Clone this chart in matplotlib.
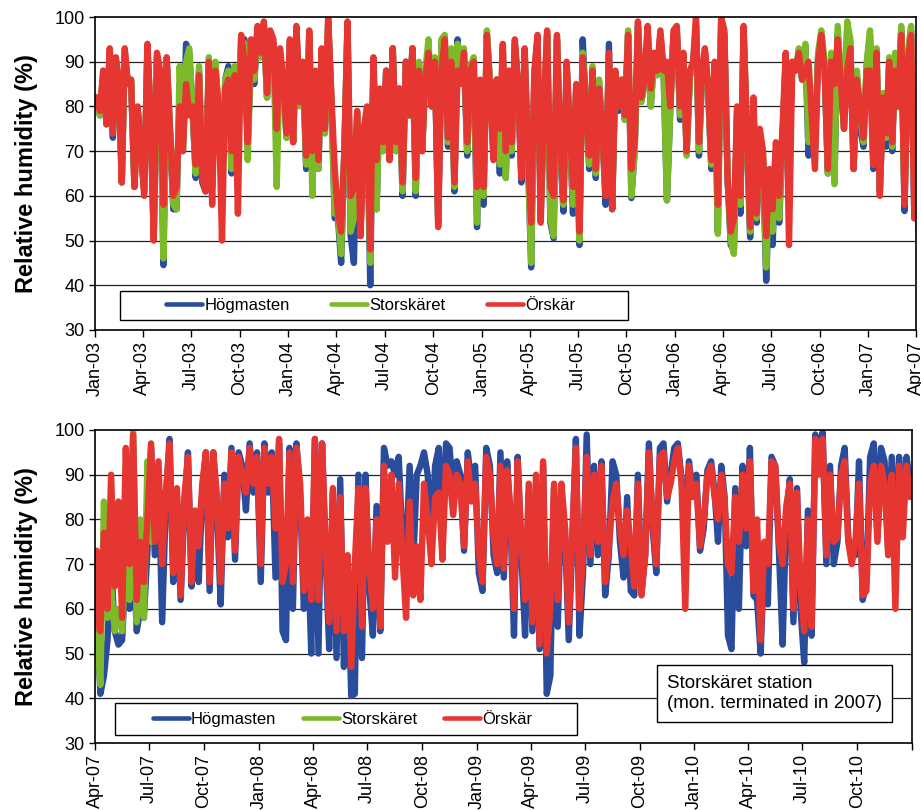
import numpy as np
import pandas as pd
import matplotlib
matplotlib.use("Agg")
import matplotlib.pyplot as plt
from matplotlib.patches import Rectangle

plt.rcParams['font.family'] = ['Liberation Sans', 'DejaVu Sans']

# daily RH (%), 5 readings per month, Jan..Dec
orskar_2003 = [82, 79, 88, 76, 93, 74, 91, 86, 63, 93, 85, 86, 62, 80, 70,
               60, 94, 78, 50, 92, 88, 58, 91, 75, 60, 62, 80, 70, 85, 78,
               80, 67, 87, 64, 61, 90, 58, 88, 80, 50, 84, 86, 70, 87, 56,
               96, 90, 72, 95, 88, 98, 92, 99, 83, 97, 95, 75, 93, 86, 74]
orskar_2004 = [95, 72, 98, 81, 90, 69, 97, 70, 88, 68, 93, 75, 100, 82, 66,
               56, 52, 70, 99, 60, 62, 79, 51, 75, 80, 48, 91, 68, 84, 72,
               88, 68, 93, 72, 84, 63, 90, 78, 93, 64, 88, 70, 86, 92, 80,
               90, 53, 88, 95, 73, 90, 63, 88, 85, 92, 72, 88, 90, 62, 86]
orskar_2005 = [62, 96, 84, 68, 86, 75, 94, 70, 88, 72, 95, 85, 64, 93, 70,
               54, 88, 96, 54, 80, 97, 62, 60, 96, 72, 59, 90, 75, 62, 85,
               52, 91, 80, 69, 88, 66, 84, 75, 60, 92, 57, 88, 80, 86, 78,
               96, 66, 72, 99, 82, 86, 98, 84, 92, 88, 97, 88, 90, 80, 97]
orskar_2006 = [98, 80, 92, 70, 88, 90, 100, 72, 88, 93, 85, 68, 90, 58, 100,
               97, 64, 52, 55, 80, 60, 98, 75, 53, 82, 56, 75, 70, 51, 66,
               57, 72, 60, 75, 92, 49, 90, 88, 92, 86, 88, 90, 78, 66, 90,
               96, 88, 66, 90, 85, 95, 85, 75, 88, 93, 66, 86, 80, 73, 88]
orskar_2007 = [88, 67, 92, 60, 82, 74, 90, 72, 88, 80, 96, 58, 90, 96, 55,
               73, 55, 77, 60, 90, 65, 84, 58, 96, 70, 99, 62, 75, 66, 80,
               97, 75, 93, 70, 86, 97, 68, 87, 63, 85, 94, 66, 82, 74, 88,
               95, 66, 95, 85, 66, 88, 78, 95, 73, 94, 90, 86, 96, 88, 94]
orskar_2008 = [70, 96, 88, 94, 78, 98, 66, 70, 95, 66, 96, 88, 64, 80, 62,
               98, 62, 97, 74, 57, 87, 55, 85, 55, 72, 47, 70, 87, 56, 87,
               70, 60, 80, 56, 92, 75, 90, 67, 88, 72, 58, 84, 63, 74, 62,
               88, 80, 70, 85, 86, 71, 92, 90, 81, 90, 88, 74, 93, 84, 88]
orskar_2009 = [73, 66, 94, 90, 76, 70, 92, 69, 91, 82, 60, 93, 75, 62, 88,
               57, 90, 52, 93, 50, 60, 88, 62, 88, 78, 57, 77, 96, 60, 72,
               94, 72, 90, 75, 92, 66, 74, 84, 88, 78, 72, 82, 74, 65, 88,
               63, 72, 95, 80, 70, 94, 95, 85, 88, 93, 96, 88, 60, 92, 85]
orskar_2010 = [88, 74, 80, 90, 92, 85, 80, 90, 84, 70, 68, 85, 75, 90, 78,
               93, 64, 80, 53, 75, 70, 93, 92, 75, 70, 83, 88, 60, 86, 65,
               55, 80, 56, 98, 90, 98, 72, 90, 75, 76, 90, 93, 75, 70, 75,
               88, 63, 64, 88, 92, 75, 92, 88, 72, 90, 60, 92, 76, 92, 85]

hogmasten_2003 = [82, 78, 87, 76, 92, 73, 90, 85, 63, 92, 85, 85, 62, 79, 70,
                  61, 93, 78, 51, 91, 87, 44.5, 90, 74, 57, 57, 85, 70, 94, 92,
                  80, 64, 88, 63, 61, 90, 62, 89, 78, 62, 86, 89, 65, 88, 70,
                  95, 95, 71, 92, 85, 97, 91, 98, 82, 96, 94, 70, 92, 85, 73]
hogmasten_2004 = [94, 72, 97, 81, 89, 66, 96, 67, 87, 66, 92, 74, 99, 81, 55,
                  55, 45, 69, 98, 51, 45, 78, 51, 74, 78, 40, 90, 57, 83, 70,
                  88, 68, 93, 70, 84, 60, 90, 78, 93, 60, 89, 70, 87, 93, 80,
                  90, 54, 94, 95, 71, 92, 61, 95, 86, 92, 69, 88, 90, 53, 84]
hogmasten_2005 = [58, 96, 84, 70, 86, 65, 93, 64, 87, 69, 94, 84, 63, 92, 69,
                  44, 87, 95, 56, 78, 96, 54, 50.5, 95, 70, 56.5, 89, 74, 56, 84,
                  49, 95, 80, 66, 88, 64, 85, 74, 58, 94, 57, 87, 79, 85, 77,
                  96, 59.5, 70, 98, 81, 85, 97, 80, 91, 87, 96, 87, 59, 79, 96]
hogmasten_2006 = [97, 77, 91, 70, 87, 89, 98, 69, 86, 92, 84, 66, 89, 52, 99,
                  96, 64, 49, 48, 79, 56, 97, 73, 50.7, 80, 54, 73, 68, 41, 62,
                  49, 69, 54, 72, 90, 70, 89, 88, 92, 86, 93, 69, 77, 70, 91,
                  96, 89, 65, 90, 64, 96, 86, 75, 97, 94, 66, 87, 75, 71, 89]
hogmasten_2007 = [96, 66, 92, 61, 82, 71, 90, 70, 91, 80, 97, 56.6, 91, 97, 55,
                  60, 41, 45, 53, 70, 55, 52, 53, 70, 60, 75, 55, 60, 58, 73,
                  96, 72, 90, 57, 84, 98, 66, 85, 62, 82, 95, 65, 80, 66, 86,
                  95, 64, 95, 82, 61, 90, 76, 96, 71, 95, 92, 82, 97, 86, 95]
hogmasten_2008 = [66, 97, 86, 95, 67, 97, 55, 53, 96, 60, 97, 85, 60, 76, 50,
                  98, 50, 97, 72, 51, 86, 49, 89, 47, 70, 40.5, 41, 90, 49, 90,
                  65, 54, 83, 55, 96, 92, 93, 90, 94, 75, 72, 92, 70, 90, 92,
                  95, 90, 74, 92, 96, 74, 97, 96, 86, 93, 90, 73, 95, 88, 92]
hogmasten_2009 = [68, 64, 96, 92, 72, 68, 95, 67, 93, 80, 54, 94, 72, 54, 86,
                  55, 88, 51, 92, 41, 45, 87, 56, 86, 76, 53, 75, 98, 54, 68,
                  99, 70, 92, 72, 93, 63, 72, 93, 90, 75, 67, 85, 64, 63, 90,
                  64, 72, 97, 78, 68, 96, 97, 84, 90, 96, 97, 89, 77, 93, 86]
hogmasten_2010 = [90, 73, 78, 91, 93, 86, 75, 92, 85, 54, 51, 87, 60, 92, 74,
                  96, 63, 62, 50, 72, 61, 94, 92, 73, 52, 81, 89, 57, 87, 60,
                  48, 82, 54, 99, 92, 99.5, 70, 92, 70, 75, 92, 96, 76, 72, 72,
                  93, 62, 66, 94, 97, 76, 96, 93, 73, 94, 72, 94, 80, 94, 88]

storskaret_2003 = [82, 78, 88, 76, 92, 74, 90, 86, 63, 92, 85, 86, 62, 79, 70,
                   61, 93, 78, 51, 91, 87, 46, 90, 75, 58, 57, 89, 70, 90, 93,
                   80, 65, 89, 65, 62, 91, 64, 90, 78, 62, 86, 88, 66, 89, 70,
                   95, 94, 68, 92, 86, 97, 91, 98, 82, 96, 94, 62, 92, 85, 73]
storskaret_2004 = [94, 72, 97, 80, 89, 67, 96, 60, 87, 66, 92, 74, 99, 81, 56,
                   56, 47, 70, 98, 52, 55, 78, 52, 74, 79, 45, 90, 57, 83, 70,
                   88, 69, 93, 70, 84, 61, 90, 78, 93, 61, 90, 70, 88, 95, 80,
                   91, 55, 95, 96, 72, 93, 62, 94, 86, 93, 70, 89, 91, 54, 85]
storskaret_2005 = [60, 97, 85, 69, 86, 67, 93, 64, 88, 70, 94, 85, 65, 92, 69,
                   45, 87, 95, 57, 79, 96, 55, 51, 95, 71, 58, 89, 74, 58, 84,
                   50, 92, 80, 67, 89, 65, 86, 74, 60, 91, 59, 87, 80, 86, 77,
                   97, 60, 70, 98, 81, 85, 97, 80, 91, 87, 96, 87, 59, 79, 96]
storskaret_2006 = [97, 78, 91, 69, 87, 89, 98, 70, 87, 92, 84, 67, 89, 51.5, 99,
                   96, 64, 50, 47, 79, 58, 97, 74, 52, 81, 55, 74, 69, 44, 64,
                   52, 70, 55, 73, 91, 70, 90, 88, 93, 86, 94, 72, 78, 70, 92,
                   97, 90, 65, 92, 62.6, 98, 87, 76, 99, 95, 67, 88, 78, 72, 90]
# station closed at the start of July 2007
storskaret_2007 = [97, 67, 93, 62, 83, 73, 91, 71, 92, 81, 98, 59, 92, 98, 60,
                   56, 43, 84, 58, 65, 55, 60, 55, 72, 62, 100, 57, 80, 58, 93,
                   75]

orskar = (orskar_2003 + orskar_2004 + orskar_2005 + orskar_2006 +
          orskar_2007 + orskar_2008 + orskar_2009 + orskar_2010)
hogmasten = (hogmasten_2003 + hogmasten_2004 + hogmasten_2005 + hogmasten_2006 +
             hogmasten_2007 + hogmasten_2008 + hogmasten_2009 + hogmasten_2010)
storskaret = (storskaret_2003 + storskaret_2004 + storskaret_2005 +
              storskaret_2006 + storskaret_2007)


def reading_dates(n):
    # 5 readings per month from Jan 2003, spread through the month
    months = pd.date_range("2003-01-01", periods=(n + 4) // 5, freq="MS")
    out = []
    for m in months:
        step = m.days_in_month / 5
        for i in range(5):
            out.append(m + pd.Timedelta(days=(i + 0.5) * step))
    return pd.DatetimeIndex(out[:n])


d_hog = reading_dates(len(hogmasten))
d_sto = reading_dates(len(storskaret))
d_ors = reading_dates(len(orskar))

c_hog = '#2a4c9c'
c_sto = '#7dba2a'
c_ors = '#e63632'
lw = 4.6

fig = plt.figure(figsize=(9.21, 8.10), dpi=100)
ax1 = fig.add_axes([95 / 921, 1 - 330 / 810, 821 / 921, 313 / 810])
ax2 = fig.add_axes([95 / 921, 1 - 743 / 810, 817 / 921, 313 / 810])

panels = [
    (ax1, "2003-01-01", "2007-04-01", (0.0305, 0.032, 0.619, 0.093), 2.5),
    (ax2, "2007-04-01", "2011-01-01", (0.0245, 0.0256, 0.5655, 0.102), 1.6),
]

for ax, x0, x1, box, colsp in panels:
    for y in range(40, 100, 10):
        ax.axhline(y, color='#222222', lw=0.9, zorder=1)
    kw = dict(lw=lw, solid_joinstyle='round', solid_capstyle='round', zorder=2)
    l1, = ax.plot(d_hog, hogmasten, color=c_hog, label="Högmasten", **kw)
    l2, = ax.plot(d_sto, storskaret, color=c_sto, label="Storskäret", **kw)
    l3, = ax.plot(d_ors, orskar, color=c_ors, label="Örskär", **kw)

    ax.set_xlim(pd.Timestamp(x0), pd.Timestamp(x1))
    ax.set_ylim(30, 100)
    ax.set_yticks(range(30, 101, 10))
    ticks = pd.date_range(x0, x1, freq="QS")
    ax.set_xticks(ticks)
    labels = [t.strftime("%b-%y") for t in ticks]
    if ax is ax2:
        labels[-1] = ""
    ax.set_xticklabels(labels, rotation=90)
    ax.tick_params(axis='both', labelsize=13, direction='out', length=4,
                   width=1, colors='black')
    ax.tick_params(axis='x', length=5, pad=3)
    for s in ax.spines.values():
        s.set_linewidth(1.2)
        s.set_color('black')
    ax.set_ylabel("Relative humidity (%)", fontsize=17, fontweight='bold',
                  labelpad=12)

    # legend frame
    ax.add_patch(Rectangle((box[0], box[1]), box[2], box[3],
                           transform=ax.transAxes, fc='white', ec='black',
                           lw=1, zorder=4))
    leg = ax.legend(handles=[l1, l2, l3], ncol=3, frameon=False,
                    loc='center',
                    bbox_to_anchor=(box[0] + box[2] / 2 - 0.004, box[1] + box[3] / 2),
                    fontsize=12, handlelength=2.15, handletextpad=0.15,
                    columnspacing=colsp, borderaxespad=0)
    for h in leg.legend_handles:
        h.set_linewidth(3.3)
    leg.set_zorder(5)

ax2.text(0.700, 0.158, "Storskäret station\n(mon. terminated in 2007)",
         transform=ax2.transAxes, fontsize=13.5, ha='left', va='center',
         linespacing=1.25, zorder=6,
         bbox=dict(boxstyle='square,pad=0.55', fc='white', ec='black', lw=1))

fig.savefig("out.png", dpi=100)
